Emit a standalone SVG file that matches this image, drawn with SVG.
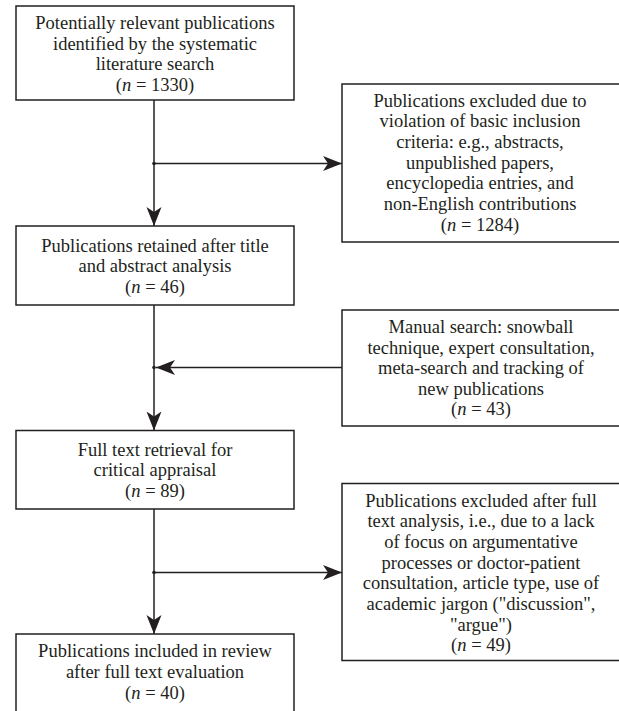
<svg xmlns="http://www.w3.org/2000/svg" width="619" height="711" viewBox="0 0 619 711">
<style>
.box{fill:#fff;stroke:#231f20;stroke-width:1.5}
.t{font-family:"Liberation Serif","Times New Roman",serif;font-size:18.5px;fill:#231f20;text-anchor:middle}
.c{fill:none;stroke:#231f20;stroke-width:1.5}
.i{font-style:italic}
</style>
<defs>
<marker id="ah" markerUnits="userSpaceOnUse" markerWidth="20" markerHeight="16" refX="19" refY="7.5" orient="auto">
<path d="M0,0 L19,7.5 L0,15 L5,7.5 Z" fill="#231f20"/>
</marker>
</defs>
<rect width="619" height="711" fill="#fff"/>
<g id="connectors">
<line class="c" x1="154" y1="100" x2="154" y2="226" marker-end="url(#ah)"/>
<line class="c" x1="154" y1="163.5" x2="342" y2="163.5" marker-end="url(#ah)"/>
<line class="c" x1="154" y1="305" x2="154" y2="430.5" marker-end="url(#ah)"/>
<line class="c" x1="342" y1="367.5" x2="156" y2="367.5" marker-end="url(#ah)"/>
<line class="c" x1="154" y1="509" x2="154" y2="634" marker-end="url(#ah)"/>
<line class="c" x1="154" y1="572.5" x2="342" y2="572.5" marker-end="url(#ah)"/>
<circle cx="154" cy="163.5" r="1.8" fill="#231f20"/>
<circle cx="154" cy="367.5" r="1.8" fill="#231f20"/>
<circle cx="154" cy="572.5" r="1.8" fill="#231f20"/>
</g>
<g id="n1">
<rect class="box" x="16" y="6" width="278" height="94"/>
<text class="t" x="155" y="29">Potentially relevant publications</text>
<text class="t" x="155" y="49.5">identified by the systematic</text>
<text class="t" x="155" y="70">literature search</text>
<text class="t" x="155" y="90.5">(<tspan class="i">n</tspan> = 1330)</text>
</g>
<g id="n2">
<rect class="box" x="342" y="84" width="290" height="158"/>
<text class="t" x="480" y="106.5">Publications excluded due to</text>
<text class="t" x="480" y="127.2">violation of basic inclusion</text>
<text class="t" x="480" y="147.9">criteria: e.g., abstracts,</text>
<text class="t" x="480" y="168.6">unpublished papers,</text>
<text class="t" x="480" y="189.3">encyclopedia entries, and</text>
<text class="t" x="480" y="210">non-English contributions</text>
<text class="t" x="480" y="230.7">(<tspan class="i">n</tspan> = 1284)</text>
</g>
<g id="n3">
<rect class="box" x="16" y="226" width="278" height="79"/>
<text class="t" x="155" y="251.5">Publications retained after title</text>
<text class="t" x="155" y="272">and abstract analysis</text>
<text class="t" x="155" y="292.5">(<tspan class="i">n</tspan> = 46)</text>
</g>
<g id="n4">
<rect class="box" x="342" y="310" width="290" height="116"/>
<text class="t" x="481" y="333">Manual search: snowball</text>
<text class="t" x="481" y="353.5">technique, expert consultation,</text>
<text class="t" x="481" y="374">meta-search and tracking of</text>
<text class="t" x="481" y="394.5">new publications</text>
<text class="t" x="481" y="415">(<tspan class="i">n</tspan> = 43)</text>
</g>
<g id="n5">
<rect class="box" x="16" y="430.5" width="278" height="78.5"/>
<text class="t" x="155" y="455.5">Full text retrieval for</text>
<text class="t" x="155" y="476">critical appraisal</text>
<text class="t" x="155" y="496.5">(<tspan class="i">n</tspan> = 89)</text>
</g>
<g id="n6">
<rect class="box" x="342" y="483.5" width="290" height="177"/>
<text class="t" x="481" y="506.5">Publications excluded after full</text>
<text class="t" x="481" y="527.2">text analysis, i.e., due to a lack</text>
<text class="t" x="481" y="547.9">of focus on argumentative</text>
<text class="t" x="481" y="568.6">processes or doctor-patient</text>
<text class="t" x="481" y="589.3">consultation, article type, use of</text>
<text class="t" x="481" y="610">academic jargon ("discussion",</text>
<text class="t" x="481" y="630.7">"argue")</text>
<text class="t" x="481" y="651.4">(<tspan class="i">n</tspan> = 49)</text>
</g>
<g id="n7">
<rect class="box" x="16" y="634" width="278" height="90"/>
<text class="t" x="155" y="657">Publications included in review</text>
<text class="t" x="155" y="678">after full text evaluation</text>
<text class="t" x="155" y="699">(<tspan class="i">n</tspan> = 40)</text>
</g>
</svg>
